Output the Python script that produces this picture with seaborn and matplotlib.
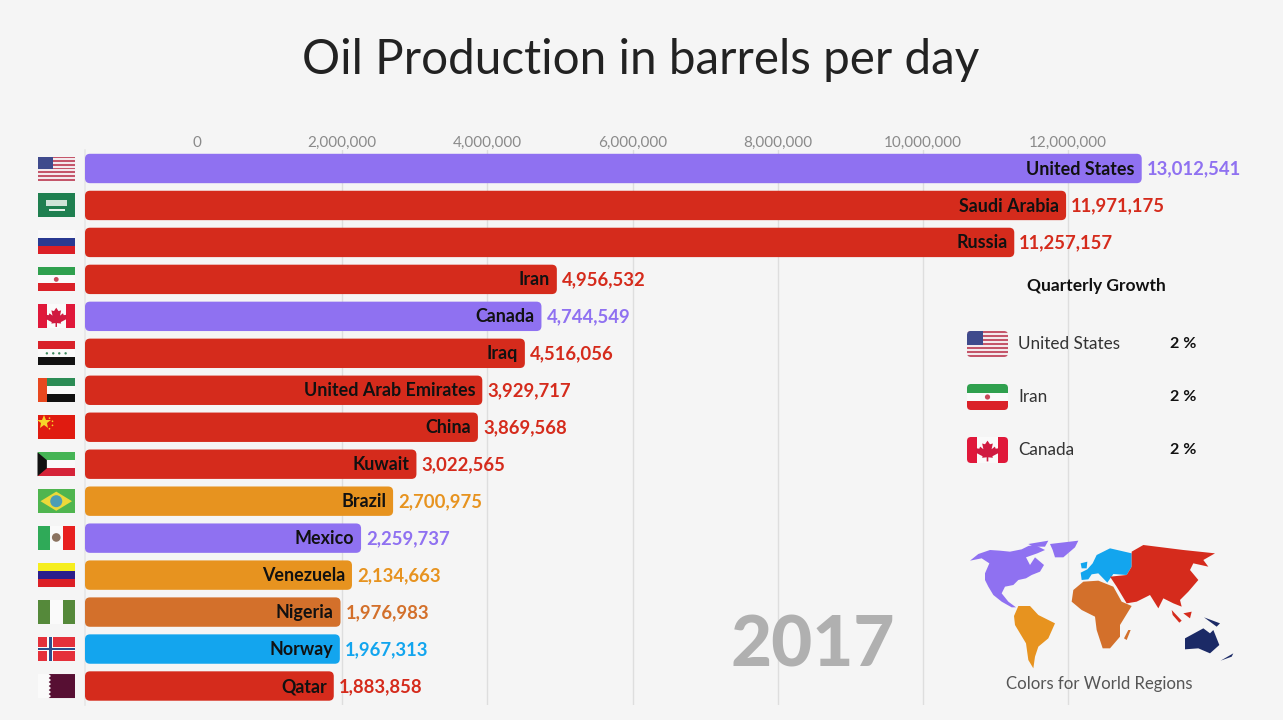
import numpy as np
import pandas as pd
import matplotlib
matplotlib.use("Agg")
import matplotlib.pyplot as plt
import seaborn as sns
from matplotlib.patches import FancyBboxPatch, Polygon, Rectangle, Circle
from matplotlib.ticker import FuncFormatter

countries = ["United States", "Saudi Arabia", "Russia", "Iran", "Canada", "Iraq",
             "United Arab Emirates", "China", "Kuwait", "Brazil", "Mexico",
             "Venezuela", "Nigeria", "Norway", "Qatar"]
production = [13012541, 11971175, 11257157, 4956532, 4744549, 4516056, 3929717,
              3869568, 3022565, 2700975, 2259737, 2134663, 1976983, 1967313, 1883858]
regions = ["na", "asia", "asia", "asia", "na", "asia", "asia", "asia", "asia",
           "sa", "na", "sa", "africa", "europe", "asia"]
flag_codes = ["us", "sa", "ru", "ir", "ca", "iq", "ae", "cn", "kw", "br", "mx",
              "ve", "ng", "no", "qa"]
tick_values = [0, 2000000, 4000000, 6000000, 8000000, 10000000, 12000000]
growth_names = ["United States", "Iran", "Canada"]
growth_flags = ["us", "ir", "ca"]
growth_values = [2, 2, 2]
year = "2017"

region_colors = {"na": "#8F71F1", "asia": "#D52B1C", "sa": "#E7931F",
                 "africa": "#D3702B", "europe": "#13A5EE", "oceania": "#1B2A66"}

BG = "#F5F5F5"
FONT = "Lato"

sns.set_theme(style="white")
plt.rcParams["font.family"] = [FONT, "DejaVu Sans"]

fig = plt.figure(figsize=(12.83, 7.2), dpi=100, facecolor=BG)

# main axes, in pixels the plot runs 85..1283 and 150..705
ax = fig.add_axes([85 / 1283, 15.5 / 720, 1198 / 1283, 554.5 / 720], facecolor=BG)
px_per_unit = 72.6 / 1e6
px_per_row = 554.5 / 15

df = pd.DataFrame({"country": countries, "production": production, "region": regions})
palette = {c: region_colors[r] for c, r in zip(countries, regions)}
sns.barplot(data=df, x="production", y="country", hue="country", palette=palette,
            order=countries, hue_order=countries, legend=False, width=0.795, ax=ax,
            dodge=False, saturation=1)

x_left = -(197 - 85) / px_per_unit
x_right = (1283 - 197) / px_per_unit
ax.set_xlim(x_left, x_right)
ax.set_ylim(14.5, -0.5)

# swap the square bars for rounded ones
for patch, country in zip(list(ax.patches), countries):
    col = patch.get_facecolor()
    end = patch.get_width()
    y0 = patch.get_y()
    h = patch.get_height()
    patch.set_visible(False)
    ax.add_patch(FancyBboxPatch((x_left, y0), end - x_left, h,
                                boxstyle="round,pad=0,rounding_size=%f" % (5 / px_per_unit),
                                mutation_aspect=px_per_unit / px_per_row,
                                facecolor=col, edgecolor="none", zorder=3, clip_on=False))
    ax.text(end - 7 / px_per_unit, y0 + h / 2 - 0.025, country, ha="right", va="center_baseline",
            fontsize=12.9, fontweight="bold", color="#111111", zorder=4)
    ax.text(end + 5 / px_per_unit, y0 + h / 2 - 0.025, f"{int(end):,}", ha="left", va="center_baseline",
            fontsize=13.35, fontweight="bold", color=col, zorder=4)

ax.set_xlabel("")
ax.set_ylabel("")
ax.set_yticks([])
ax.xaxis.tick_top()
ax.set_xticks(tick_values)
ax.xaxis.set_major_formatter(FuncFormatter(lambda v, p: f"{int(v):,}"))
ax.tick_params(axis="x", length=0, pad=0, labelsize=11, labelcolor="#8a8a8a")
ax.grid(axis="x", color="#DEDEDE", linewidth=1)
ax.set_axisbelow(True)
ax.xaxis.get_gridlines()[0].set_visible(False)
for name in ["top", "right", "bottom"]:
    ax.spines[name].set_visible(False)
ax.spines["left"].set_color("#E8E8E8")

# overlay in pixel coordinates for the pictures
ov = fig.add_axes([0, 0, 1, 1], facecolor="none")
ov.set_xlim(0, 1283)
ov.set_ylim(720, 0)
ov.axis("off")


def draw_flag(code, x, y, w, h, rounded=False):
    parts = []

    def rect(fx, fy, fw, fh, color):
        r = Rectangle((x + fx * w, y + fy * h), fw * w, fh * h, facecolor=color, edgecolor="none")
        ov.add_patch(r)
        parts.append(r)

    def poly(points, color):
        p = Polygon([(x + a * w, y + b * h) for a, b in points], closed=True,
                    facecolor=color, edgecolor="none")
        ov.add_patch(p)
        parts.append(p)

    def dot(fx, fy, rad, color):
        c = Circle((x + fx * w, y + fy * h), rad * h, facecolor=color, edgecolor="none")
        ov.add_patch(c)
        parts.append(c)

    def bands(colors):
        for i, col in enumerate(colors):
            rect(0, i / len(colors), 1, 1 / len(colors), col)

    if code == "us":
        bands(["#C4566A" if i % 2 == 0 else "#F3E9EC" for i in range(13)])
        rect(0, 0, 0.4, 7 / 13, "#3F4A8C")
    elif code == "sa":
        rect(0, 0, 1, 1, "#1F7F50")
        rect(0.22, 0.26, 0.56, 0.26, "#CFE4D8")
        rect(0.3, 0.66, 0.42, 0.05, "#E6F1EB")
    elif code == "ru":
        bands(["#FAFAFA", "#2A3A92", "#DB1F26"])
    elif code == "ir":
        bands(["#2FA04E", "#FAFAFA", "#DA2128"])
        dot(0.5, 0.5, 0.1, "#C9485A")
    elif code == "ca":
        rect(0, 0, 1, 1, "#FAFAFA")
        rect(0, 0, 0.25, 1, "#E0183A")
        rect(0.75, 0, 0.25, 1, "#E0183A")
        poly([(0.5, 0.14), (0.56, 0.28), (0.63, 0.25), (0.6, 0.47), (0.68, 0.37), (0.7, 0.45),
              (0.79, 0.43), (0.76, 0.56), (0.79, 0.6), (0.62, 0.74), (0.63, 0.8), (0.52, 0.78),
              (0.52, 0.94), (0.48, 0.94), (0.48, 0.78), (0.37, 0.8), (0.38, 0.74), (0.21, 0.6),
              (0.24, 0.56), (0.21, 0.43), (0.3, 0.45), (0.32, 0.37), (0.4, 0.47), (0.37, 0.25),
              (0.44, 0.28)], "#D01A40")
    elif code == "iq":
        bands(["#D9222A", "#FAFAFA", "#111111"])
        for fx in [0.25, 0.42, 0.58, 0.75]:
            dot(fx, 0.5, 0.05, "#3F8A60")
    elif code == "ae":
        bands(["#2C8C55", "#FAFAFA", "#111111"])
        rect(0, 0, 0.25, 1, "#E8481F")
    elif code == "cn":
        rect(0, 0, 1, 1, "#E01B10")
        ov.plot([x + 0.16 * w], [y + 0.3 * h], marker="*", ms=h * 0.42, color="#F6D52A", mew=0)
        for fx, fy in [(0.32, 0.12), (0.4, 0.25), (0.4, 0.42), (0.32, 0.56)]:
            dot(fx, fy, 0.035, "#F6D52A")
    elif code == "kw":
        bands(["#45B455", "#FAFAFA", "#D52338"])
        poly([(0, 0), (0.25, 0.33), (0.25, 0.67), (0, 1)], "#111111")
    elif code == "br":
        rect(0, 0, 1, 1, "#4FB54F")
        poly([(0.5, 0.1), (0.92, 0.5), (0.5, 0.9), (0.08, 0.5)], "#EBD93A")
        dot(0.5, 0.5, 0.25, "#4C9DB5")
    elif code == "mx":
        rect(0, 0, 1, 1, "#FAFAFA")
        rect(0, 0, 0.33, 1, "#2FAA58")
        rect(0.67, 0, 0.33, 1, "#E8201F")
        dot(0.5, 0.47, 0.18, "#8B7360")
    elif code == "ve":
        bands(["#F6EE1E", "#2B1E8C", "#DC1F26"])
    elif code == "ng":
        rect(0, 0, 1, 1, "#FAFAFA")
        rect(0, 0, 0.33, 1, "#55893A")
        rect(0.67, 0, 0.33, 1, "#55893A")
    elif code == "no":
        rect(0, 0, 1, 1, "#E5303A")
        rect(0.26, 0, 0.16, 1, "#FAFAFA")
        rect(0, 0.4, 1, 0.2, "#FAFAFA")
        rect(0.31, 0, 0.07, 1, "#2C4E8C")
        rect(0, 0.46, 1, 0.09, "#2C4E8C")
    elif code == "qa":
        rect(0, 0, 1, 1, "#FAFAFA")
        teeth = 6
        pts = [(1, 0), (1, 1), (0.3, 1)]
        for i in range(teeth):
            pts.append((0.36, 1 - (i + 0.5) / teeth))
            pts.append((0.3, 1 - (i + 1) / teeth))
        poly(pts, "#570F33")

    if rounded:
        clip = FancyBboxPatch((x, y), w, h, boxstyle="round,pad=0,rounding_size=4",
                              transform=ov.transData, facecolor="none", edgecolor="none")
        ov.add_patch(clip)
        for part in parts:
            part.set_clip_path(clip)


for i, code in enumerate(flag_codes):
    draw_flag(code, 37.5, 168.5 + i * px_per_row - 12, 37.5, 24)

# quarterly growth panel
ov.text(1096, 286, "Quarterly Growth", ha="center", va="center", fontsize=12.5,
        fontweight="bold", color="#111111")
for i, (name, code, val) in enumerate(zip(growth_names, growth_flags, growth_values)):
    cy = 344 + i * 53
    draw_flag(code, 967, cy - 13, 41, 26, rounded=True)
    ov.text(1018, cy, name, ha="left", va="center", fontsize=12.3, color="#333333")
    ov.text(1170, cy, f"{val} %", ha="left", va="center", fontsize=11.5,
            fontweight="bold", color="#111111")

ov.text(813, 646, year, ha="center", va="center", fontsize=51, fontweight="black", color="#B0B0B0")

# world map legend, outlines in crop pixels of the corner picture
map_shapes = [
    ("na", [(60, 92), (85, 72), (120, 60), (150, 62), (180, 65), (215, 58), (235, 48), (255, 45),
            (285, 60), (262, 70), (228, 82), (240, 105), (255, 82), (282, 105), (270, 125),
            (245, 135), (228, 145), (205, 150), (190, 165), (165, 170), (155, 190), (175, 215),
            (198, 232), (185, 232), (155, 215), (130, 195), (115, 170), (105, 150), (105, 130),
            (118, 100), (95, 85)]),
    ("na", [(300, 42), (385, 32), (375, 52), (340, 82), (315, 82), (308, 60)]),
    ("na", [(235, 42), (295, 32), (285, 50), (250, 50)]),
    ("sa", [(205, 228), (240, 228), (265, 255), (315, 280), (295, 325), (265, 350), (255, 380),
            (250, 415), (235, 390), (228, 340), (195, 285), (192, 258)]),
    ("africa", [(400, 155), (445, 152), (490, 170), (515, 215), (545, 228), (510, 285), (510, 320),
                (480, 355), (458, 355), (440, 300), (435, 260), (395, 240), (365, 215), (370, 180)]),
    ("africa", [(535, 300), (542, 300), (530, 330), (522, 325)]),
    ("europe", [(392, 128), (412, 118), (428, 100), (440, 75), (480, 55), (545, 70), (545, 110),
                (530, 135), (490, 132), (472, 158), (445, 130), (425, 133), (415, 148), (395, 150)]),
    ("europe", [(392, 100), (412, 95), (410, 115), (395, 115)]),
    ("asia", [(545, 65), (580, 45), (700, 60), (795, 70), (760, 90), (775, 110), (730, 100),
              (720, 120), (745, 150), (715, 185), (690, 210), (695, 230), (670, 220), (640, 205),
              (625, 235), (600, 195), (560, 215), (530, 220), (500, 170), (480, 140), (530, 135),
              (545, 110)]),
    ("asia", [(700, 250), (725, 245), (720, 265)]),
    ("asia", [(665, 240), (695, 272), (688, 278), (668, 255)]),
    ("oceania", [(705, 325), (760, 295), (780, 310), (790, 300), (808, 345), (780, 370), (745, 355),
                 (705, 358)]),
    ("oceania", [(762, 262), (810, 280), (800, 290)]),
    ("oceania", [(812, 392), (850, 370), (845, 380)]),
]
for region, shape in map_shapes:
    pts = [(950 + a / 3, 530 + b / 3) for a, b in shape]
    ov.add_patch(Polygon(pts, closed=True, facecolor=region_colors[region], edgecolor="none"))
ov.text(1099, 684, "Colors for World Regions", ha="center", va="center", fontsize=12.1, color="#555555")

fig.text(641 / 1283, 1 - 60 / 720, "Oil Production in barrels per day", ha="center", va="center",
         fontsize=34.3, color="#222222")

fig.savefig("out.png", dpi=100, facecolor=BG)
